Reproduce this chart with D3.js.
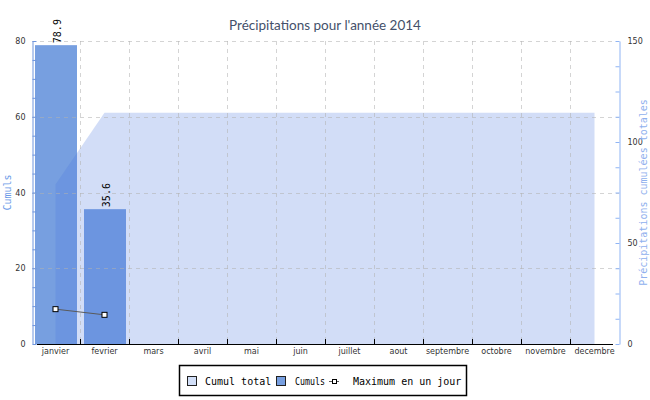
<!DOCTYPE html>
<html>
<head>
<meta charset="utf-8">
<script src="https://cdn.jsdelivr.net/npm/d3@7/dist/d3.min.js"></script>
<style>
  html, body { margin: 0; padding: 0; background: #fff; }
  svg { display: block; }
</style>
</head>
<body>
<svg id="chart" width="650" height="400"></svg>
<script>
const title = "Précipitations pour l'année 2014";
const months = ["janvier","fevrier","mars","avril","mai","juin","juillet","aout","septembre","octobre","novembre","decembre"];
const cumuls = [78.9, 35.6];
const cumulTotal = [78.9, 114.5, 114.5, 114.5, 114.5, 114.5, 114.5, 114.5, 114.5, 114.5, 114.5, 114.5];
const maxJour = [9.2, 7.7];
const leftTicks = [0, 20, 40, 60, 80];
const rightTicks = [0, 50, 100, 150];
const leftTitle = "Cumuls";
const rightTitle = "Précipitations cumulées totales";
const legendLabels = ["Cumul total", "Cumuls", "Maximum en un jour"];

const svg = d3.select("#chart");
const L = 31, R = 619, T = 41, B = 344;

const x = d3.scaleBand().domain(months).range([L, R]).padding(0);
const yL = d3.scaleLinear().domain([0, 80]).range([B, T]);
const yR = d3.scaleLinear().domain([0, 150]).range([B, T]);

const barColor = "#779fe0";
const areaColor = "rgba(74,120,225,0.25)";
const gridColor = "rgba(176,176,176,0.55)";

// title
svg.append("text").attr("x", 325).attr("y", 30).attr("text-anchor", "middle")
  .style("font-family", "Lato, 'Open Sans', sans-serif").style("font-size", "13.5px")
  .style("fill", "#44506a").text(title);

// bars
svg.append("g").selectAll("rect").data(cumuls).join("rect")
  .attr("x", (d, i) => x(months[i]) + 4)
  .attr("width", x.bandwidth() - 7)
  .attr("y", d => yL(d))
  .attr("height", d => B - yL(d))
  .attr("fill", barColor);

// area (cumul total, right axis)
const area = d3.area()
  .x((d, i) => x(months[i]) + x.bandwidth() / 2)
  .y0(B).y1(d => yR(d));
svg.append("path").datum(cumulTotal).attr("d", area).attr("fill", areaColor);

// grid
const grid = svg.append("g");
grid.selectAll("line.h").data(leftTicks.filter(d => d > 0)).join("line")
  .attr("x1", L + 1).attr("x2", R).attr("y1", d => Math.round(yL(d)) + 0.5).attr("y2", d => Math.round(yL(d)) + 0.5)
  .attr("stroke", gridColor).attr("stroke-dasharray", "4,4");
grid.selectAll("line.v").data(months.slice(1)).join("line")
  .attr("x1", d => Math.round(x(d)) + 0.5).attr("x2", d => Math.round(x(d)) + 0.5)
  .attr("y1", T).attr("y2", B)
  .attr("stroke", gridColor).attr("stroke-dasharray", "4,4");

// bar labels
svg.append("g").selectAll("text").data(cumuls).join("text")
  .attr("transform", (d, i) => `translate(${x(months[i]) + x.bandwidth() / 2 + 2},${yL(d) - 2}) rotate(-90)`)
  .attr("dominant-baseline", "middle")
  .style("font-family", "'DejaVu Sans Mono', monospace").style("font-size", "10px")
  .style("fill", "#000").text(d => d.toFixed(1));

// line max en un jour
const line = d3.line().x((d, i) => x(months[i]) + x.bandwidth() / 2).y(d => yL(d));
svg.append("path").datum(maxJour).attr("d", line).attr("fill", "none").attr("stroke", "#5a5a5a").attr("stroke-width", 1);
svg.append("g").selectAll("rect").data(maxJour).join("rect")
  .attr("x", (d, i) => x(months[i]) + x.bandwidth() / 2 - 2.5)
  .attr("y", d => yL(d) - 2.5)
  .attr("width", 5).attr("height", 5)
  .attr("fill", "#fff").attr("stroke", "#000").attr("stroke-width", 1);

// left axis
const axL = svg.append("g").attr("transform", `translate(${L + 1.5},0)`)
  .call(d3.axisLeft(yL).tickValues(d3.range(0, 81, 5)).tickSize(-4).tickSizeOuter(0).tickPadding(7)
    .tickFormat(d => leftTicks.includes(d) ? d : ""));
axL.select(".domain").attr("stroke", "#6f95dc");
axL.selectAll(".tick line").attr("stroke", "#6f95dc");
axL.selectAll("text").style("font-family", "'DejaVu Sans', sans-serif").style("font-size", "8px").style("fill", "#333");

// right axis
const axR = svg.append("g").attr("transform", `translate(${R + 0.5},0)`)
  .call(d3.axisRight(yR).tickValues(d3.range(0, 151, 12.5)).tickSize(-4).tickSizeOuter(0).tickPadding(8)
    .tickFormat(d => rightTicks.includes(d) ? d : ""));
axR.select(".domain").attr("stroke", "#8fb4f4");
axR.selectAll(".tick line").attr("stroke", "#8fb4f4");
axR.selectAll("text").style("font-family", "'DejaVu Sans', sans-serif").style("font-size", "8px").style("fill", "#333");

// bottom axis
const axB = svg.append("g").attr("transform", `translate(0,${B})`)
  .call(d3.axisBottom(x).tickSize(0).tickPadding(4));
axB.select(".domain").remove();
axB.selectAll("text").style("font-family", "'DejaVu Sans', sans-serif").style("font-size", "8px").style("fill", "#333");
svg.append("line").attr("x1", L + 6).attr("x2", R - 6).attr("y1", B + 0.5).attr("y2", B + 0.5).attr("stroke", "#000");
svg.append("g").selectAll("line").data(months.slice(1)).join("line")
  .attr("x1", d => Math.round(x(d)) + 0.5).attr("x2", d => Math.round(x(d)) + 0.5)
  .attr("y1", B - 5).attr("y2", B).attr("stroke", "#000");

// axis titles
svg.append("text").attr("transform", `translate(7.5,${(T + B) / 2}) rotate(-90)`)
  .attr("text-anchor", "middle").attr("dominant-baseline", "middle")
  .style("font-family", "'DejaVu Sans Mono', monospace").style("font-size", "10px")
  .style("fill", "#6d9be8").text(leftTitle);
svg.append("text").attr("transform", `translate(644,${(T + B) / 2}) rotate(-90)`)
  .attr("text-anchor", "middle").attr("dominant-baseline", "middle")
  .style("font-family", "'DejaVu Sans Mono', monospace").style("font-size", "10px")
  .style("fill", "#8fb0ee").text(rightTitle);

// legend
const lg = svg.append("g");
const mono = "'DejaVu Sans Mono', monospace";
lg.append("rect").attr("x", 179.5).attr("y", 365.5).attr("width", 287).attr("height", 30)
  .attr("fill", "#fff").attr("stroke", "#000").attr("stroke-width", 1.5);
lg.append("rect").attr("x", 187.5).attr("y", 376.5).attr("width", 9).attr("height", 9)
  .attr("fill", "#d2dff8").attr("stroke", "#222");
lg.append("text").attr("x", 205).attr("y", 384.5).style("font-family", mono).style("font-size", "10px").text(legendLabels[0]);
lg.append("rect").attr("x", 276.5).attr("y", 376.5).attr("width", 9).attr("height", 9)
  .attr("fill", barColor).attr("stroke", "#222");
lg.append("text").attr("x", 295).attr("y", 384.5).attr("textLength", 30).attr("lengthAdjust", "spacingAndGlyphs")
  .style("font-family", mono).style("font-size", "10px").text(legendLabels[1]);
lg.append("line").attr("x1", 329).attr("x2", 339).attr("y1", 381.5).attr("y2", 381.5).attr("stroke", "#5a5a5a");
lg.append("rect").attr("x", 332.5).attr("y", 379.5).attr("width", 4).attr("height", 4)
  .attr("fill", "#fff").attr("stroke", "#000");
lg.append("text").attr("x", 353).attr("y", 384.5).style("font-family", mono).style("font-size", "10px").text(legendLabels[2]);
</script>
</body>
</html>
